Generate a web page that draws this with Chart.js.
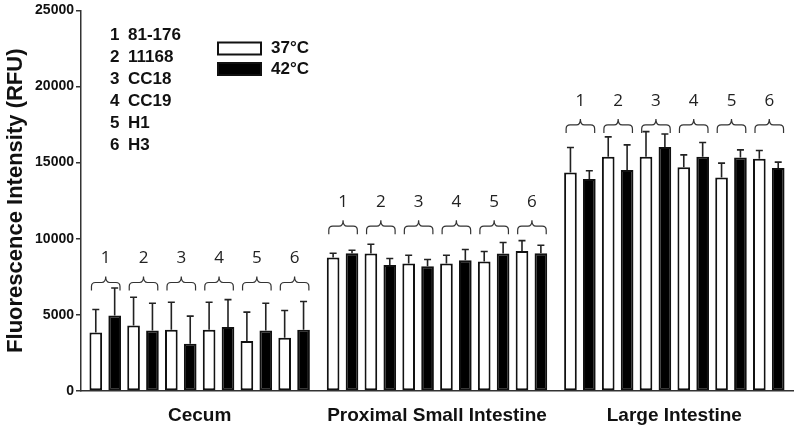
<!DOCTYPE html>
<html>
<head>
<meta charset="utf-8">
<script src="https://cdn.jsdelivr.net/npm/chart.js@4"></script>
<style>
  html, body { margin: 0; padding: 0; background: #fff; }
  #wrap { width: 800px; height: 426px; }
</style>
</head>
<body>
<div id="wrap"><canvas id="chart"></canvas></div>
<script>
// regions on the x axis, strains inside each region, two temperatures per strain
const regions = ["Cecum", "Proximal Small Intestine", "Large Intestine"];
const strains = ["81-176", "11168", "CC18", "CC19", "H1", "H3"];
const temps = ["37°C", "42°C"];

// mean RFU per region (rows) and strain (columns)
const mean37 = [
    [3850, 4310, 4030, 4030, 3290, 3500],
    [8770, 9030, 8380, 8380, 8510, 9200],
    [14360, 15380, 15380, 14690, 14030, 15250]
];
const err37 = [
    [1500, 1850, 1800, 1800, 1890, 1790],
    [280, 610, 540, 540, 650, 680],
    [1630, 1310, 1660, 820, 940, 550]
];
const mean42 = [
    [4960, 3980, 3110, 4200, 3980, 4025],
    [9050, 8270, 8200, 8590, 9030, 9050],
    [13930, 14510, 16030, 15380, 15340, 14640]
];
const err42 = [
    [1810, 1785, 1805, 1805, 1785, 1850],
    [200, 430, 440, 700, 720, 525],
    [540, 1660, 850, 940, 500, 395]
];
const yTicks = [0, 5000, 10000, 15000, 20000, 25000];

const means = [mean37, mean42];
const errs = [err37, err42];
const fills = ['#ffffff', '#000000'];

// one dataset per strain/temperature pair -> 12 bars per region
const datasets = [];
strains.forEach((s, si) => {
    temps.forEach((t, ti) => {
        datasets.push({
            label: s + ' ' + t,
            data: regions.map((r, ri) => means[ti][ri][si]),
            backgroundColor: fills[ti],
            borderColor: '#111',
            borderWidth: 2,
            borderSkipped: false,
            strain: si,
            temp: ti
        });
    });
});

// bracket heights above each region (in RFU)
const bracketLevel = [6600, 10300, 16950];

const errorBars = {
    id: 'errorBars',
    afterDatasetsDraw(chart) {
        const ctx = chart.ctx;
        const y = chart.scales.y;
        ctx.save();
        ctx.strokeStyle = '#222';
        ctx.lineWidth = 1.6;
        chart.data.datasets.forEach((ds, i) => {
            const meta = chart.getDatasetMeta(i);
            meta.data.forEach((bar, ri) => {
                const top = y.getPixelForValue(means[ds.temp][ri][ds.strain] + errs[ds.temp][ri][ds.strain]);
                ctx.beginPath();
                ctx.moveTo(bar.x, bar.y);
                ctx.lineTo(bar.x, top);
                ctx.moveTo(bar.x - 3.5, top);
                ctx.lineTo(bar.x + 3.5, top);
                ctx.stroke();
            });
        });

        // curly brackets with strain numbers
        ctx.lineWidth = 1.2;
        ctx.strokeStyle = '#333';
        ctx.fillStyle = '#222';
        ctx.font = '17px "Open Sans"';
        ctx.textAlign = 'center';
        ctx.textBaseline = 'middle';
        regions.forEach((r, ri) => {
            const base = y.getPixelForValue(bracketLevel[ri]);
            strains.forEach((s, si) => {
                const w = chart.getDatasetMeta(si * 2).data[ri];
                const b = chart.getDatasetMeta(si * 2 + 1).data[ri];
                const x1 = w.x - w.width / 2 + 2;
                const x2 = b.x + b.width / 2 - 1;
                const mid = (x1 + x2) / 2;
                const h = 8, tip = 14, rad = 4;
                ctx.beginPath();
                ctx.moveTo(x1, base);
                ctx.lineTo(x1, base - h + rad);
                ctx.quadraticCurveTo(x1, base - h, x1 + rad, base - h);
                ctx.lineTo(mid - rad, base - h);
                ctx.quadraticCurveTo(mid, base - h, mid, base - tip);
                ctx.quadraticCurveTo(mid, base - h, mid + rad, base - h);
                ctx.lineTo(x2 - rad, base - h);
                ctx.quadraticCurveTo(x2, base - h, x2, base - h + rad);
                ctx.lineTo(x2, base);
                ctx.stroke();
                ctx.fillText(String(si + 1), mid, base - 32);
            });
        });
        ctx.restore();
    }
};

const keyPlugin = {
    id: 'keyPlugin',
    afterDraw(chart) {
        const ctx = chart.ctx;
        ctx.save();
        ctx.fillStyle = '#111';
        ctx.font = 'bold 17px "Liberation Sans", Arial, sans-serif';
        ctx.textBaseline = 'middle';
        ctx.textAlign = 'left';
        strains.forEach((s, i) => {
            const yy = 35 + i * 22;
            ctx.fillText(String(i + 1), 110, yy);
            ctx.fillText(s, 128, yy);
        });
        temps.forEach((t, i) => {
            const yy = 48.5 + i * 20.5;
            ctx.fillStyle = fills[i];
            ctx.fillRect(218, yy - 6, 43, 12);
            ctx.strokeStyle = '#111';
            ctx.lineWidth = 2;
            ctx.strokeRect(218, yy - 6, 43, 12);
            ctx.fillStyle = '#111';
            ctx.fillText(t, 271, yy);
        });
        ctx.restore();
    }
};

new Chart("chart", {
    type: "bar",
    data: {
        labels: regions,
        datasets: datasets
    },
    options: {
        responsive: true,
        maintainAspectRatio: false,
        animation: false,
        categoryPercentage: 0.955,
        barPercentage: 0.67,
        layout: { padding: { top: 8, right: 7, left: 0, bottom: 0 } },
        plugins: {
            legend: { display: false },
            tooltip: { enabled: false }
        },
        scales: {
            x: {
                grid: { display: false },
                border: { display: true, color: '#333', width: 1.5 },
                ticks: {
                    color: '#111',
                    font: { family: '"Liberation Sans", Arial', size: 19, weight: 'bold' },
                    padding: 5,
                    maxRotation: 0
                },
                afterFit(scale) { scale.height = 35; }
            },
            y: {
                min: 0,
                max: 25000,
                afterBuildTicks(scale) { scale.ticks = yTicks.map(v => ({ value: v })); },
                grid: { display: true, drawOnChartArea: false, drawTicks: true, tickLength: 5, color: '#333', lineWidth: 1.5 },
                border: { display: true, color: '#333', width: 1.5 },
                ticks: {
                    color: '#111',
                    padding: 2,
                    font: { family: '"Liberation Sans", Arial', size: 14, weight: 'bold' },
                    callback: v => String(v)
                },
                title: {
                    display: true,
                    text: 'Fluorescence Intensity (RFU)',
                    color: '#111',
                    font: { family: '"Liberation Sans", Arial', size: 22, weight: 'bold' },
                    padding: 3
                },
                afterFit(scale) { scale.width = 81; }
            }
        }
    },
    plugins: [errorBars, keyPlugin]
});
</script>
</body>
</html>
